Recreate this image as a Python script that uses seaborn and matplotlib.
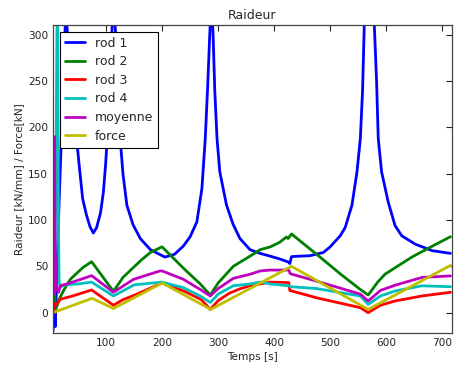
import matplotlib
matplotlib.use("Agg")
import matplotlib.pyplot as plt
import seaborn as sns

# rod 1 (blue)
rod1_t = [5, 7, 9, 12, 16, 20, 24, 28, 31, 35, 39, 46, 52, 58, 65, 71, 77, 83, 90, 95,
          99, 102, 106, 110, 113, 117, 121, 125, 130, 137, 148, 161, 179, 205, 222, 238,
          250, 262, 271, 275, 277, 281, 285, 288, 291, 294, 298, 303, 315, 327, 339, 357,
          375, 393, 410, 426, 428, 431, 445, 464, 488, 500, 518, 527, 539, 548, 554, 558,
          561, 566, 574, 579, 583, 586, 592, 604, 616, 628, 652, 682, 715]
rod1_v = [-20, 5, -15, 40, 120, 190, 260, 330, 300, 262, 231, 195, 158, 123, 105, 93, 86, 92, 108, 130,
          160, 190, 240, 300, 340, 300, 230, 188, 150, 116, 95, 80, 68, 60, 63, 72,
          82, 98, 134, 170, 188, 240, 300, 340, 300, 240, 188, 152, 116, 95, 80, 68,
          64, 61, 58, 54.5, 53, 60.5, 61, 61.5, 65, 71, 83, 92, 116, 152, 188, 240,
          310, 360, 360, 310, 250, 188, 152, 119, 94, 83, 74, 67, 64]

# rod 2 (green)
rod2_t = [5, 7, 9, 12, 18, 25, 36, 50, 59, 74, 113, 130, 149, 165, 179, 196, 200, 238, 268, 286,
          300, 327, 357, 375, 393, 410, 422, 425, 431, 480, 520, 554, 568, 585, 598, 620, 646, 680, 715]
rod2_v = [10, 40, 3, 7, 17, 25, 36, 44, 49, 55, 23, 38, 49, 58, 65, 70, 71, 48, 31, 19,
          32, 50, 61, 68, 71, 76, 81.7, 80, 85, 61, 41, 25, 19, 33, 41.5, 50, 60, 71, 82]

# rod 3 (red)
rod3_t = [5, 7, 9, 18, 40, 74, 113, 130, 155, 196, 200, 240, 270, 286, 300, 320, 340, 357, 393,
          426, 428, 476, 520, 554, 568, 590, 616, 664, 715]
rod3_v = [0, 10, 7, 14.5, 18, 24.5, 8, 14, 20, 31, 32, 23, 14, 3.5, 13, 21, 26, 29, 33,
          32.5, 24, 16, 10, 5.4, 0, 8, 12.6, 18, 22]

# rod 4 (cyan)
rod4_t = [5, 8, 10, 12, 13, 14, 15, 16, 20, 24, 50, 74, 113, 150, 199, 238, 268, 286, 300, 327,
          357, 375, 393, 426, 430, 476, 554, 568, 590, 616, 664, 715]
rod4_v = [20, 60, 120, 300, 330, 200, 80, 32, 28, 30, 31, 33, 18, 30, 33, 27, 18, 11, 20, 29,
          31, 33, 31, 29, 28, 26, 18, 9, 18, 23.4, 29, 28]

# moyenne (magenta)
moy_t = [5, 6, 7, 8, 9, 10, 12, 15, 18, 30, 50, 74, 113, 149, 196, 200, 238, 268, 286, 300,
         327, 357, 375, 393, 426, 429, 476, 554, 568, 590, 616, 664, 715]
moy_v = [25, 90, 20, 190, 30, 60, 25, 22, 29, 31, 35, 40, 22, 36, 45, 45, 36, 25, 18, 26,
         37, 41.5, 45, 46, 46, 42, 34, 20, 12.6, 24, 29.6, 38, 39.7]

# force (yellow)
force_t = [5, 75, 113, 200, 287, 431, 568, 715]
force_v = [0, 15.5, 4.5, 32, 3.5, 50, 3.5, 51]

series = [
    ("rod 1", rod1_t, rod1_v, (0, 0, 1)),
    ("rod 2", rod2_t, rod2_v, (0, 0.5, 0)),
    ("rod 3", rod3_t, rod3_v, (1, 0, 0)),
    ("rod 4", rod4_t, rod4_v, (0, 0.75, 0.75)),
    ("moyenne", moy_t, moy_v, (0.75, 0, 0.75)),
    ("force", force_t, force_v, (0.75, 0.75, 0)),
]

sns.set_style("white")
plt.rcParams["font.family"] = ["DejaVu Sans"]
plt.rcParams["font.size"] = 7.6
plt.rcParams["xtick.direction"] = "in"
plt.rcParams["ytick.direction"] = "in"

fig = plt.figure(figsize=(4.54, 3.67), dpi=100)
ax = fig.add_axes([0.1167, 0.0926, 0.878, 0.8401])

for name, t, v, col in series:
    sns.lineplot(x=t, y=v, ax=ax, color=col, linewidth=2, label=name,
                 sort=False, estimator=None)

ax.set_xlim(5, 717)
ax.set_ylim(-22, 311)
ax.set_xticks([100, 200, 300, 400, 500, 600, 700])
ax.set_yticks([0, 50, 100, 150, 200, 250, 300])
ax.tick_params(top=True, right=True, length=4, width=0.8, labelsize=7.6, colors="#222222")
for s in ax.spines.values():
    s.set_color("#444444")
    s.set_linewidth(0.9)

ax.set_title("Raideur", fontsize=9, pad=4)
ax.set_xlabel("Temps [s]", fontsize=7.6, labelpad=3)
ax.set_ylabel("Raideur [kN/mm] / Force[kN]", fontsize=7.6, labelpad=3)

leg = ax.legend(loc="upper left", fontsize=9, fancybox=False, framealpha=1,
                edgecolor="black", handlelength=1.6, labelspacing=0.45,
                borderaxespad=0.55, borderpad=0.4)
leg.get_frame().set_linewidth(0.8)

fig.savefig("out.png", dpi=100)
